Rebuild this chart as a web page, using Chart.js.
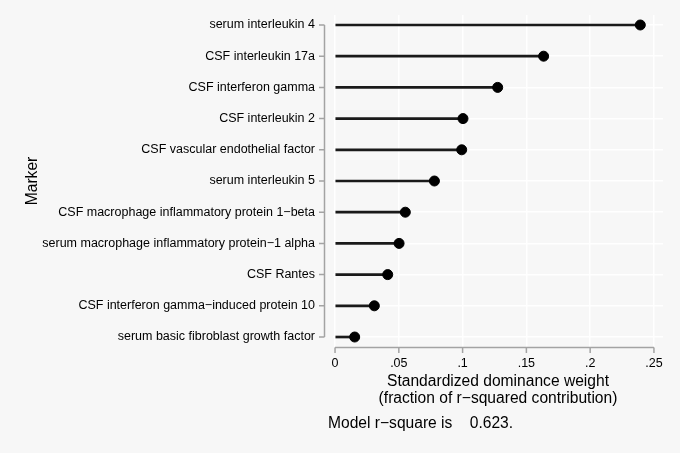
<!DOCTYPE html>
<html>
<head>
<meta charset="utf-8">
<script src="https://cdn.jsdelivr.net/npm/chart.js@4.4.1/dist/chart.umd.min.js"></script>
<style>
  html, body { margin: 0; padding: 0; background: #f7f7f7; }
  #wrap { width: 680px; height: 453px; }
</style>
</head>
<body>
<div id="wrap"><canvas id="myChart"></canvas></div>
<script>
const markers = [
    'serum interleukin 4',
    'CSF interleukin 17a',
    'CSF interferon gamma',
    'CSF interleukin 2',
    'CSF vascular endothelial factor',
    'serum interleukin 5',
    'CSF macrophage inflammatory protein 1\u2212beta',
    'serum macrophage inflammatory protein\u22121 alpha',
    'CSF Rantes',
    'CSF interferon gamma\u2212induced protein 10',
    'serum basic fibroblast growth factor'
];
const weights = [0.2393, 0.1635, 0.1275, 0.1003, 0.0993, 0.0779, 0.0551, 0.0502, 0.0413, 0.0308, 0.0154];
const xTicks = [0, 0.05, 0.1, 0.15, 0.2, 0.25];
const note = 'Model r\u2212square is    0.623.';

const FONT = "'Liberation Sans', Arial, Helvetica, sans-serif";
const axisColor = '#a3a3a3';

const points = weights.map((w, i) => ({ x: w, y: i + 1 }));

// stata-style axis lines, detached from the plot region
const axisLines = {
    id: 'axisLines',
    afterDraw(chart) {
        const { ctx, scales: { x, y } } = chart;
        ctx.save();
        ctx.strokeStyle = axisColor;
        ctx.lineWidth = 1.5;
        const ax = 324.5;
        ctx.beginPath();
        ctx.moveTo(ax, y.getPixelForValue(1));
        ctx.lineTo(ax, y.getPixelForValue(markers.length));
        markers.forEach((m, i) => {
            const py = y.getPixelForValue(i + 1);
            ctx.moveTo(ax - 5.5, py);
            ctx.lineTo(ax, py);
        });
        const ay = 347.5;
        ctx.moveTo(x.getPixelForValue(0), ay);
        ctx.lineTo(x.getPixelForValue(0.25), ay);
        xTicks.forEach(t => {
            const px = x.getPixelForValue(t);
            ctx.moveTo(px, ay);
            ctx.lineTo(px, ay + 5.5);
        });
        ctx.stroke();

        ctx.fillStyle = '#000';
        ctx.font = '15.6px ' + FONT;
        ctx.textBaseline = 'middle';
        ctx.textAlign = 'left';
        ctx.fillText(note, 328, 424);
        ctx.restore();
    }
};

const background = {
    id: 'background',
    beforeDraw(chart) {
        const ctx = chart.ctx;
        ctx.save();
        ctx.fillStyle = '#f7f7f7';
        ctx.fillRect(0, 0, chart.width, chart.height);
        ctx.restore();
    }
};

new Chart(document.getElementById('myChart'), {
    type: 'bar',
    data: {
        datasets: [{
            type: 'bar',
            data: points,
            backgroundColor: '#1a1a1a',
            barThickness: 2,
            order: 2
        }, {
            type: 'scatter',
            data: points,
            backgroundColor: '#000',
            borderColor: '#000',
            pointRadius: 5,
            pointHoverRadius: 5,
            order: 1
        }]
    },
    options: {
        indexAxis: 'y',
        responsive: true,
        maintainAspectRatio: false,
        animation: false,
        layout: { padding: { top: 15, right: 17, bottom: 40, left: 0 } },
        plugins: { legend: { display: false }, tooltip: { enabled: false } },
        scales: {
            x: {
                type: 'linear',
                min: -0.0016,
                max: 0.2571,
                offset: false,
                afterBuildTicks: s => { s.ticks = xTicks.map(v => ({ value: v })); },
                afterFit: s => { s.height = 66; s.paddingLeft = 0; s.paddingRight = 0; },
                grid: { color: '#ffffff', lineWidth: 1.5, drawTicks: false, offset: false },
                border: { display: false },
                ticks: {
                    padding: 9,
                    color: '#000',
                    font: { family: FONT, size: 12.5 },
                    callback: v => v === 0 ? '0' : String(v).replace(/^0/, '')
                },
                title: {
                    display: true,
                    text: ['Standardized dominance weight', '(fraction of r\u2212squared contribution)'],
                    color: '#000',
                    font: { family: FONT, size: 15.6, lineHeight: 17 / 15.6 },
                    padding: { top: 0, bottom: 5.5 }
                }
            },
            y: {
                type: 'linear',
                reverse: true,
                min: 0.68,
                max: markers.length + 0.32,
                offset: false,
                afterBuildTicks: s => { s.ticks = markers.map((m, i) => ({ value: i + 1 })); },
                afterFit: s => { s.width = 333; s.paddingTop = 0; s.paddingBottom = 0; },
                grid: { color: '#ffffff', lineWidth: 1.5, drawTicks: false, offset: false },
                border: { display: false },
                ticks: {
                    padding: 18,
                    color: '#000',
                    font: { family: FONT, size: 12.5 },
                    callback: v => markers[v - 1]
                },
                title: {
                    display: true,
                    text: 'Marker',
                    color: '#000',
                    font: { family: FONT, size: 15.6 },
                    padding: { top: 23, bottom: 0 }
                }
            }
        }
    },
    plugins: [background, axisLines]
});
</script>
</body>
</html>
